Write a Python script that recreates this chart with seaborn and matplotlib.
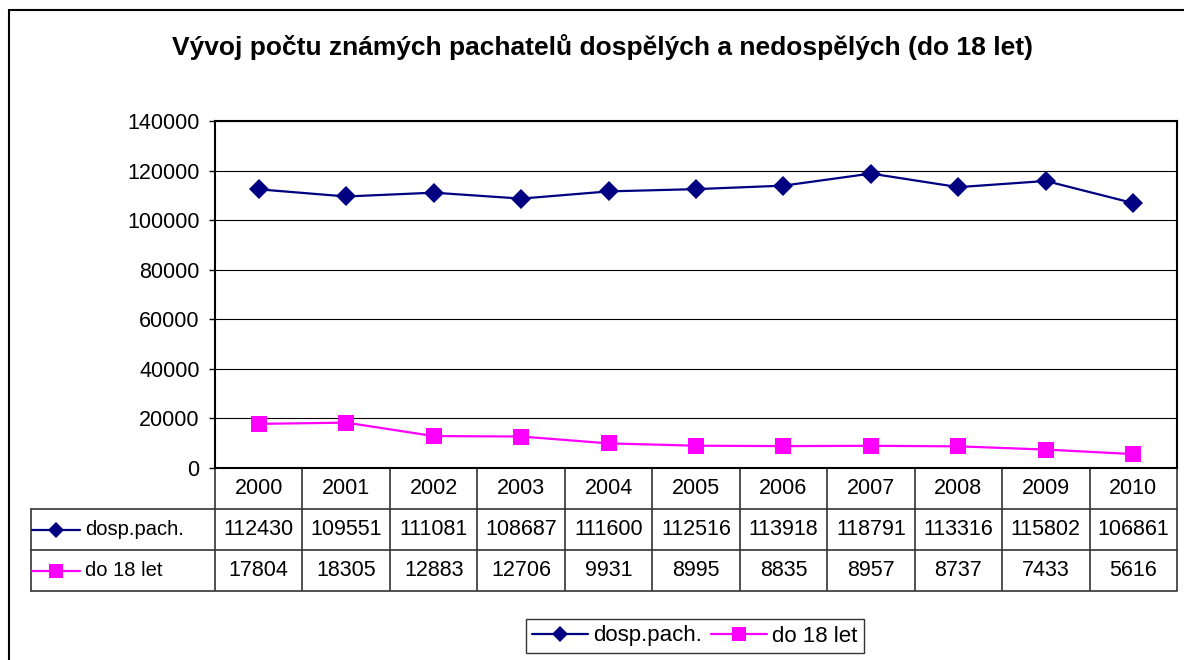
import matplotlib
matplotlib.use("Agg")
import matplotlib.pyplot as plt
from matplotlib.lines import Line2D
from matplotlib.patches import Rectangle
import seaborn as sns
import pandas as pd

# data
years = ["2000", "2001", "2002", "2003", "2004", "2005", "2006", "2007", "2008", "2009", "2010"]
dosp_pach = [112430, 109551, 111081, 108687, 111600, 112516, 113918, 118791, 113316, 115802, 106861]
do_18_let = [17804, 18305, 12883, 12706, 9931, 8995, 8835, 8957, 8737, 7433, 5616]
series_names = ["dosp.pach.", "do 18 let"]
series_colors = ["#000080", "#FF00FF"]
series_markers = ["D", "s"]
title = "Vývoj počtu známých pachatelů dospělých a nedospělých (do 18 let)"

df = pd.DataFrame({
    "rok": years * 2,
    "pocet": dosp_pach + do_18_let,
    "rada": [series_names[0]] * len(years) + [series_names[1]] * len(years),
})

sns.set_style("white")
plt.rcParams["font.family"] = ["Liberation Sans", "DejaVu Sans"]
plt.rcParams["text.color"] = "black"
plt.rcParams["ytick.color"] = "black"
plt.rcParams["ytick.labelcolor"] = "black"

W, H = 1184, 660
fig = plt.figure(figsize=(W / 100, H / 100), dpi=100)
left, right, top, bottom = 215, 1177, 121, 468
ax = fig.add_axes([left / W, 1 - bottom / H, (right - left) / W, (bottom - top) / H])

sns.lineplot(data=df, x="rok", y="pocet", hue="rada", style="rada",
             palette=dict(zip(series_names, series_colors)),
             markers=dict(zip(series_names, series_markers)),
             dashes=False, linewidth=1.6, legend=False, ax=ax, sort=False)
for line, ms in zip(ax.lines, [10, 11]):
    line.set_markersize(ms)
    line.set_markeredgewidth(0)

ax.set_xlim(-0.5, len(years) - 0.5)
ax.set_ylim(0, 140000)
ax.set_yticks(range(0, 140001, 20000))
ax.yaxis.grid(True, color="black", linewidth=0.8)
ax.set_axisbelow(True)
for s in ax.spines.values():
    s.set_color("black")
    s.set_linewidth(1.5)
ax.set_xticks([])
ax.set_xlabel("")
ax.set_ylabel("")
ax.tick_params(axis="y", direction="out", length=4, width=1, color="black",
               labelcolor="black", labelsize=15.5, pad=7, left=True)

# data table below the plot
row_h = 41 / (bottom - top)
tx = ax.get_xaxis_transform()
n = len(years)
key_left = (31 - left) / (right - left)
lc = "#333333"
fs_tab = 15.5
# vertical lines between columns
ax.vlines([i - 0.5 for i in range(n + 1)], -3 * row_h, 0, transform=tx,
          colors=lc, linewidth=1.2, clip_on=False)
# horizontal lines
for k in range(1, 4):
    ax.add_line(Line2D([key_left, 1], [-k * row_h, -k * row_h], transform=ax.transAxes,
                       color=lc, linewidth=1.2, clip_on=False))
ax.add_line(Line2D([key_left, key_left], [-row_h, -3 * row_h], transform=ax.transAxes,
                   color=lc, linewidth=1.2, clip_on=False))

for i, y in enumerate(years):
    ax.text(i, -0.5 * row_h, y, transform=tx, ha="center", va="center", fontsize=fs_tab)
    ax.text(i, -1.5 * row_h, str(dosp_pach[i]), transform=tx, ha="center", va="center", fontsize=fs_tab)
    ax.text(i, -2.5 * row_h, str(do_18_let[i]), transform=tx, ha="center", va="center", fontsize=fs_tab)

# row keys
px = 1 / (right - left)
for k, (name, c, m, ms) in enumerate(zip(series_names, series_colors, series_markers, [8, 10])):
    yk = -(1.5 + k) * row_h
    ax.add_line(Line2D([(32 - left) * px, (80 - left) * px], [yk, yk], transform=ax.transAxes,
                       color=c, linewidth=1.6, clip_on=False))
    ax.add_line(Line2D([(56 - left) * px], [yk], transform=ax.transAxes, color=c, marker=m,
                       markersize=ms, markeredgewidth=0, clip_on=False))
    ax.text((85 - left) * px, yk, name, transform=ax.transAxes, ha="left", va="center", fontsize=14.5)

# legend
handles = [Line2D([], [], color=c, marker=m, markersize=ms, markeredgewidth=0, linewidth=1.6)
           for c, m, ms in zip(series_colors, series_markers, [8, 10])]
leg = fig.legend(handles, series_names, loc="center", bbox_to_anchor=(695 / W, 1 - 636 / H),
                 ncol=2, frameon=True, fancybox=False, fontsize=16, handlelength=2.5,
                 columnspacing=0.4, handletextpad=0.25, borderpad=0.3)
leg.get_frame().set_edgecolor("black")
leg.get_frame().set_linewidth(1)

fig.text(603 / W, 1 - 47 / H, title, ha="center", va="center", fontsize=19, fontweight="bold")

# outer chart frame (top and left visible)
fig.add_artist(Rectangle((9 / W, -0.2), 1.2, 1.2 - 10 / H, transform=fig.transFigure,
                         fill=False, edgecolor="black", linewidth=1.5))

fig.savefig("out.png", dpi=100)
